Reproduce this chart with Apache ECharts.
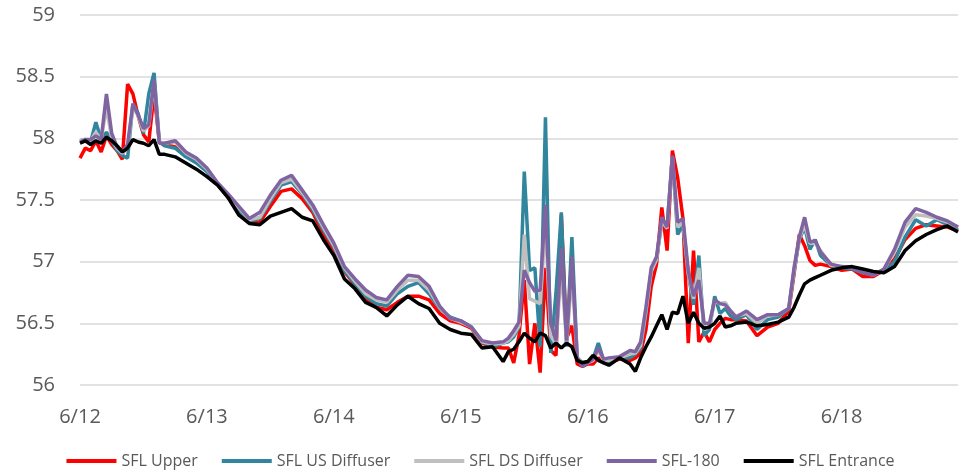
<!DOCTYPE html>
<html>
<head>
<meta charset="utf-8">
<script src="https://cdn.jsdelivr.net/npm/echarts@6/dist/echarts.min.js"></script>
<style>
html, body { margin: 0; padding: 0; background: #fff; }
#chart { width: 961px; height: 474px; }
</style>
</head>
<body>
<div id="chart"></div>
<script>
// hours since 6/12 00:00 - hourly around the spikes, every 2 h elsewhere
const hours = [
    0, 1, 2, 3, 4, 5, 6, 7, 8, 9, 10, 11, 12, 13, 14, 15, 16,
    18, 20, 22, 24, 26, 28, 30, 32, 34, 36, 38, 40, 42, 44, 46, 48, 50, 52, 54, 56, 58, 60, 62, 64, 66, 68, 70, 72, 74, 76, 78,
    80, 81, 82, 83, 84, 85, 86, 87, 88, 89, 90, 91, 92, 93, 94, 95, 96, 97, 98, 99, 100,
    102,
    104, 105, 106, 107, 108, 109, 110, 111, 112, 113, 114, 115, 116, 117, 118, 119, 120, 121, 122, 123, 124,
    126, 128, 130, 132,
    134, 135, 136, 137, 138, 139, 140,
    142, 144, 146, 148, 150, 152, 154, 156, 158, 160, 162, 164, 166
]
const dayLabels = ['6/12', '6/13', '6/14', '6/15', '6/16', '6/17', '6/18']

const sflUpper = [
    57.84, 57.92, 57.90, 57.98, 57.89, 58.02, 57.95, 57.90, 57.83, 58.44, 58.36, 58.18, 58.03, 57.97, 58.36, 57.97, 57.95,
    57.93, 57.86, 57.81, 57.74, 57.63, 57.52, 57.40, 57.32, 57.32, 57.45, 57.57, 57.59, 57.51, 57.40, 57.22, 57.10, 56.92, 56.81, 56.70, 56.63, 56.61, 56.67, 56.72, 56.72, 56.69, 56.58, 56.52, 56.50, 56.46, 56.34, 56.31,
    56.30, 56.30, 56.18, 56.40, 56.85, 56.17, 56.50, 56.10, 56.95, 56.28, 56.24, 57.38, 56.38, 56.48, 56.17, 56.15, 56.17, 56.17, 56.22, 56.18, 56.18,
    56.21,
    56.20, 56.22, 56.26, 56.45, 56.80, 56.98, 57.44, 57.09, 57.90, 57.68, 57.35, 56.34, 57.09, 56.35, 56.43, 56.35, 56.45, 56.50, 56.54, 56.53, 56.53,
    56.52, 56.40, 56.47, 56.50,
    56.60, 56.90, 57.22, 57.13, 57.01, 56.97, 56.98,
    56.96, 56.93, 56.94, 56.88, 56.88, 56.93, 57.02, 57.18, 57.27, 57.30, 57.29, 57.28, 57.25
]
const sflUsDiffuser = [
    57.98, 57.99, 57.97, 58.13, 57.99, 58.05, 57.98, 57.90, 57.86, 57.84, 58.28, 58.20, 58.04, 58.36, 58.53, 57.97, 57.94,
    57.92, 57.85, 57.80, 57.73, 57.63, 57.52, 57.42, 57.33, 57.35, 57.49, 57.62, 57.65, 57.55, 57.42, 57.26, 57.12, 56.93, 56.82, 56.72, 56.66, 56.64, 56.74, 56.80, 56.83, 56.74, 56.62, 56.55, 56.52, 56.47, 56.35, 56.31,
    56.34, 56.35, 56.39, 56.47, 57.73, 56.93, 56.95, 56.31, 58.17, 56.26, 56.75, 57.40, 56.31, 57.20, 56.22, 56.18, 56.19, 56.21, 56.34, 56.20, 56.18,
    56.22,
    56.22, 56.25, 56.30, 56.58, 56.92, 57.02, 57.32, 57.28, 57.85, 57.22, 57.30, 56.90, 56.65, 57.05, 56.40, 56.45, 56.72, 56.58, 56.62, 56.56, 56.53,
    56.57, 56.45, 56.53, 56.55,
    56.62, 56.92, 57.18, 57.28, 57.10, 57.18, 57.05,
    56.97, 56.95, 56.94, 56.91, 56.90, 56.92, 57.00, 57.20, 57.34, 57.29, 57.34, 57.30, 57.26
]
const sflDsDiffuser = [
    57.98, 57.99, 57.98, 58.05, 57.99, 58.25, 58.00, 57.92, 57.88, 57.92, 58.26, 58.18, 58.06, 58.10, 58.45, 57.97, 57.96,
    57.97, 57.88, 57.83, 57.75, 57.64, 57.54, 57.44, 57.34, 57.36, 57.51, 57.64, 57.67, 57.56, 57.44, 57.28, 57.13, 56.95, 56.84, 56.74, 56.69, 56.67, 56.77, 56.85, 56.85, 56.77, 56.63, 56.54, 56.51, 56.47, 56.35, 56.33,
    56.34, 56.36, 56.41, 56.48, 57.22, 56.70, 56.68, 56.66, 57.30, 56.40, 56.33, 56.95, 56.33, 56.90, 56.22, 56.17, 56.18, 56.20, 56.28, 56.20, 56.20,
    56.22,
    56.25, 56.26, 56.32, 56.60, 56.92, 57.02, 57.33, 57.27, 57.85, 57.28, 57.32, 56.90, 56.70, 56.95, 56.45, 56.47, 56.68, 56.66, 56.67, 56.60, 56.56,
    56.58, 56.50, 56.56, 56.57,
    56.62, 56.93, 57.19, 57.30, 57.15, 57.15, 57.09,
    56.97, 56.96, 56.95, 56.92, 56.89, 56.94, 57.08, 57.28, 57.38, 57.37, 57.35, 57.32, 57.28
]
const sfl180 = [
    57.97, 57.99, 57.99, 58.02, 57.99, 58.36, 58.04, 57.93, 57.89, 57.95, 58.28, 58.19, 58.08, 58.11, 58.48, 57.96, 57.96,
    57.98, 57.89, 57.84, 57.76, 57.64, 57.55, 57.45, 57.35, 57.40, 57.54, 57.66, 57.70, 57.58, 57.46, 57.30, 57.15, 56.96, 56.86, 56.77, 56.71, 56.69, 56.80, 56.89, 56.88, 56.80, 56.64, 56.54, 56.52, 56.47, 56.36, 56.34,
    56.35, 56.38, 56.44, 56.51, 56.93, 56.83, 56.76, 56.77, 57.46, 56.50, 56.36, 57.11, 56.36, 57.04, 56.22, 56.15, 56.18, 56.21, 56.30, 56.21, 56.22,
    56.23,
    56.28, 56.27, 56.35, 56.63, 56.95, 57.04, 57.36, 57.28, 57.86, 57.32, 57.35, 56.93, 56.72, 56.85, 56.50, 56.50, 56.69, 56.66, 56.65, 56.60, 56.55,
    56.60, 56.53, 56.57, 56.57,
    56.62, 56.95, 57.20, 57.36, 57.16, 57.17, 57.08,
    56.98, 56.96, 56.95, 56.91, 56.89, 56.94, 57.10, 57.32, 57.43, 57.40, 57.36, 57.33, 57.28
]
const sflEntrance = [
    57.96, 57.98, 57.95, 57.98, 57.96, 58.01, 57.98, 57.94, 57.89, 57.92, 57.99, 57.97, 57.96, 57.94, 57.99, 57.87, 57.87,
    57.85, 57.80, 57.75, 57.69, 57.62, 57.52, 57.38, 57.31, 57.30, 57.37, 57.40, 57.43, 57.36, 57.33, 57.18, 57.05, 56.86, 56.78, 56.67, 56.63, 56.56, 56.65, 56.72, 56.66, 56.62, 56.50, 56.45, 56.42, 56.41, 56.30, 56.31,
    56.19, 56.27, 56.29, 56.35, 56.42, 56.38, 56.35, 56.42, 56.40, 56.30, 56.34, 56.30, 56.34, 56.31, 56.20, 56.18, 56.19, 56.24, 56.20, 56.18, 56.16,
    56.22,
    56.17, 56.11, 56.22, 56.31, 56.39, 56.48, 56.57, 56.45, 56.59, 56.58, 56.72, 56.50, 56.59, 56.50, 56.46, 56.47, 56.50, 56.56, 56.47, 56.48, 56.50,
    56.51, 56.48, 56.49, 56.51,
    56.55, 56.63, 56.73, 56.82, 56.85, 56.87, 56.89,
    56.93, 56.95, 56.96, 56.94, 56.92, 56.91, 56.96, 57.09, 57.17, 57.22, 57.26, 57.29, 57.24
]

const seriesList = [
    {name: 'SFL Upper', color: '#FF0000', values: sflUpper},
    {name: 'SFL US Diffuser', color: '#31859C', values: sflUsDiffuser},
    {name: 'SFL DS Diffuser', color: '#BFBFBF', values: sflDsDiffuser},
    {name: 'SFL-180', color: '#8064A2', values: sfl180},
    {name: 'SFL Entrance', color: '#000000', values: sflEntrance}
]

const font = '"Open Sans", "Liberation Sans", sans-serif'
let chart = echarts.init(document.getElementById('chart'), null, {renderer: 'canvas'})
chart.setOption({
    animation: false,
    grid: {left: 80, right: 0, top: 15, bottom: 89},
    legend: {
        bottom: 0,
        left: 'center',
        itemWidth: 50,
        itemHeight: 4,
        itemGap: 24,
        icon: 'rect',
        textStyle: {color: '#595959', fontSize: 16, fontFamily: font},
        data: seriesList.map(s => s.name)
    },
    xAxis: {
        type: 'value',
        min: 0,
        max: 166,
        interval: 24,
        axisLine: {show: false},
        axisTick: {show: false},
        splitLine: {show: false},
        axisLabel: {
            margin: 22,
            color: '#595959',
            fontSize: 20,
            fontFamily: font,
            formatter: v => dayLabels[v / 24]
        }
    },
    yAxis: {
        type: 'value',
        min: 56,
        max: 59,
        interval: 0.5,
        axisLine: {show: false},
        axisTick: {show: false},
        splitLine: {lineStyle: {color: '#D9D9D9', width: 1.5}},
        axisLabel: {margin: 25, color: '#595959', fontSize: 20, fontFamily: font}
    },
    series: seriesList.map(s => ({
        name: s.name,
        type: 'line',
        showSymbol: false,
        color: s.color,
        lineStyle: {width: 3.5, color: s.color},
        data: hours.map((h, k) => [h, s.values[k]])
    }))
})
</script>
</body>
</html>
